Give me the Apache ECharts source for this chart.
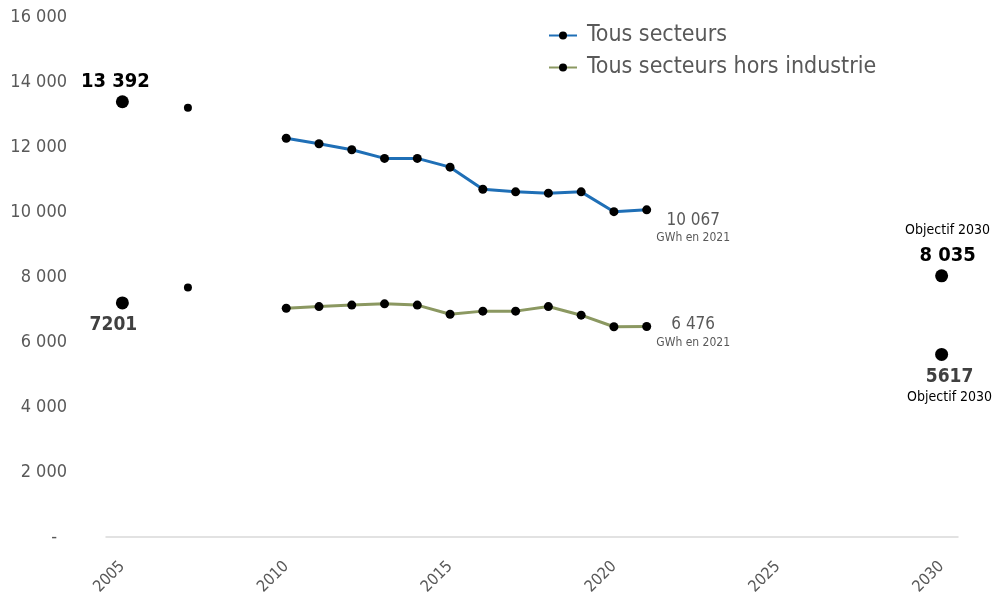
<!DOCTYPE html>
<html>
<head>
<meta charset="utf-8">
<script src="https://cdn.jsdelivr.net/npm/echarts@6/dist/echarts.min.js"></script>
<style>
  html, body { margin: 0; padding: 0; background: #ffffff; }
  #chart { width: 992px; height: 595px; }
</style>
</head>
<body>
<div id="chart"></div>
<script>
// Consommation d'énergie (GWh) — séries annuelles et objectifs 2030
const years = [2010, 2011, 2012, 2013, 2014, 2015, 2016, 2017, 2018, 2019, 2020, 2021];
const tousSecteurs = [12270, 12100, 11915, 11650, 11650, 11380, 10700, 10620, 10580, 10620, 10010, 10067];
const horsIndustrie = [7040, 7090, 7135, 7175, 7135, 6855, 6950, 6950, 7090, 6825, 6470, 6476];

// Points isolés : référence 2005, année 2007, objectifs 2030
const refYear = 2005;
const refTous = 13392;
const refHors = 7201;
const midYear = 2007;
const midTous = 13210;
const midHors = 7680;
const goalYear = 2030;
const goalTous = 8035;
const goalHors = 5617;

const xTicks = [2005, 2010, 2015, 2020, 2025, 2030];
const seriesNames = ['Tous secteurs', 'Tous secteurs hors industrie'];

const FONT = '"Liberation Sans Narrow", "DejaVu Sans Condensed", "Roboto", sans-serif';
const BLUE = '#1f6fb6';
const OLIVE = '#8b9861';
const GREY = '#595959';

function grouped(v) {
  return String(v).replace(/\B(?=(\d{3})+(?!\d))/g, ' ');
}

function pairs(xs, ys) {
  return xs.map((x, i) => [x, ys[i]]);
}

function endLabel(value, offset) {
  return {
    show: true,
    position: 'right',
    distance: 5,
    align: 'center',
    offset: offset,
    formatter: '{v|' + grouped(value) + '}\n{u|GWh en 2021}',
    rich: {
      v: { fontFamily: FONT, fontSize: 17, color: GREY, lineHeight: 20 },
      u: { fontFamily: FONT, fontSize: 12, color: GREY, lineHeight: 15 }
    }
  };
}

const tousData = pairs(years, tousSecteurs);
const horsData = pairs(years, horsIndustrie);
tousData[tousData.length - 1] = {
  value: tousData[tousData.length - 1],
  label: endLabel(tousSecteurs[tousSecteurs.length - 1], [37, 18])
};
horsData[horsData.length - 1] = {
  value: horsData[horsData.length - 1],
  label: endLabel(horsIndustrie[horsIndustrie.length - 1], [37, 6])
};

const boldBlack = { fontFamily: FONT, fontSize: 20, fontWeight: 'bold', color: '#000000' };
const boldGrey = { fontFamily: FONT, fontSize: 19, fontWeight: 'bold', color: '#404040' };
const small = { fontFamily: FONT, fontSize: 14, color: '#000000' };

const isolated = [
  {
    value: [refYear, refTous], symbolSize: 13,
    label: { show: true, position: 'top', distance: 5, offset: [-7, 2],
      formatter: '{b|' + grouped(refTous) + '}', rich: { b: boldBlack } }
  },
  {
    value: [refYear, refHors], symbolSize: 13,
    label: { show: true, position: 'bottom', distance: 5, offset: [-9, 1],
      formatter: '{b|' + String(refHors) + '}', rich: { b: boldGrey } }
  },
  { value: [midYear, midTous], symbolSize: 8 },
  { value: [midYear, midHors], symbolSize: 8 },
  {
    value: [goalYear, goalTous], symbolSize: 13,
    label: { show: true, position: 'top', distance: 5, offset: [6, 4], align: 'center',
      formatter: '{s|Objectif 2030}\n{b|' + grouped(goalTous) + '}',
      rich: { s: Object.assign({ lineHeight: 24 }, small), b: Object.assign({ lineHeight: 26 }, boldBlack) } }
  },
  {
    value: [goalYear, goalHors], symbolSize: 13,
    label: { show: true, position: 'bottom', distance: 5, offset: [8, -1], align: 'center',
      formatter: '{b|' + String(goalHors) + '}\n{s|Objectif 2030}',
      rich: { b: Object.assign({ lineHeight: 24 }, boldGrey), s: Object.assign({ lineHeight: 16 }, small) } }
  }
];

const chart = echarts.init(document.getElementById('chart'), null, { renderer: 'canvas' });

chart.setOption({
  backgroundColor: '#ffffff',
  animation: false,
  grid: { left: 106, right: 34, top: 17, bottom: 58, containLabel: false, outerBoundsMode: 'none' },
  legend: {
    data: seriesNames,
    orient: 'vertical',
    left: 543,
    top: 19,
    itemWidth: 28,
    itemHeight: 10,
    itemGap: 9,
    textStyle: { fontFamily: FONT, fontSize: 23, color: GREY, padding: [0, 0, 0, 5] }
  },
  xAxis: {
    type: 'value',
    min: 2004.5,
    max: 2030.5,
    axisLine: { show: true, lineStyle: { color: '#d9d9d9', width: 1.5 } },
    axisTick: { show: false },
    splitLine: { show: false },
    axisLabel: {
      customValues: xTicks,
      rotate: 45,
      margin: 27,
      fontFamily: FONT,
      fontSize: 16,
      color: GREY,
      formatter: v => String(v)
    }
  },
  yAxis: {
    type: 'value',
    min: 0,
    max: 16000,
    interval: 2000,
    axisLine: { show: false },
    axisTick: { show: false },
    splitLine: { show: false },
    axisLabel: {
      margin: 39,
      fontFamily: FONT,
      fontSize: 18,
      color: GREY,
      formatter: v => v === 0 ? '{d|-}' : grouped(v),
      rich: { d: { fontFamily: FONT, fontSize: 18, color: GREY, padding: [0, 10, 0, 0] } }
    }
  },
  series: [
    {
      name: seriesNames[0],
      type: 'line',
      data: tousData,
      symbol: 'circle',
      symbolSize: 9,
      itemStyle: { color: '#000000' },
      lineStyle: { color: BLUE, width: 3 },
      z: 3
    },
    {
      name: seriesNames[1],
      type: 'line',
      data: horsData,
      symbol: 'circle',
      symbolSize: 9,
      itemStyle: { color: '#000000' },
      lineStyle: { color: OLIVE, width: 3 },
      z: 3
    },
    {
      name: 'points',
      type: 'scatter',
      data: isolated,
      symbol: 'circle',
      itemStyle: { color: '#000000', opacity: 1 },
      z: 4
    }
  ]
});
</script>
</body>
</html>
